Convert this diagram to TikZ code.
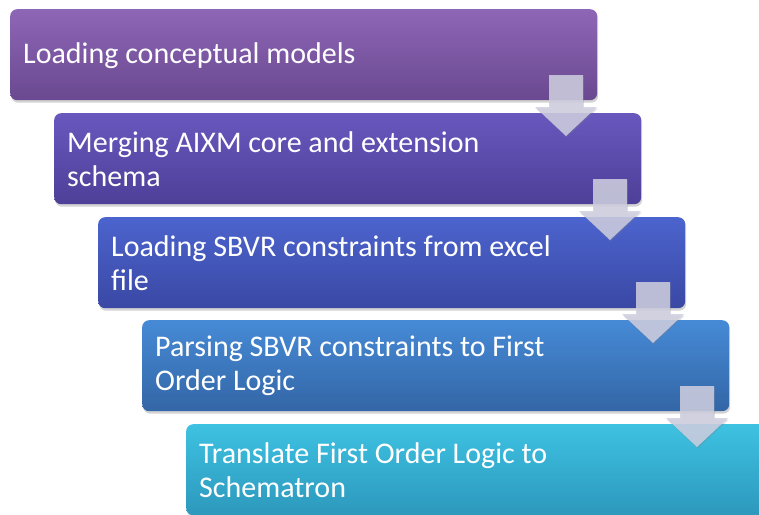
\documentclass[tikz,border=0pt]{standalone}
\usepackage{fontspec}
\setmainfont{Carlito}
\usetikzlibrary{shadows}
\begin{document}
\begin{tikzpicture}[x=1pt,y=-1pt,
  stepbox/.style={rectangle, anchor=north west, rounded corners=7pt,
    minimum width=587pt, minimum height=91pt,
    drop shadow={shadow xshift=1pt, shadow yshift=-2.5pt, opacity=0.35}},
  steptext/.style={anchor=west, inner sep=0pt, text=white, align=flush left,
    font=\fontsize{30}{34}\selectfont},
  flowarrow/.style={fill=arrowfill, fill opacity=0.85, draw=none,
    drop shadow={shadow xshift=0.8pt, shadow yshift=-1.5pt, opacity=0.25}}]
\definecolor{arrowfill}{HTML}{CFCFE1}

\useasboundingbox (0,0) rectangle (759,514);

% process steps: shaded boxes
\node[stepbox, top color={rgb,255:red,142;green,102;blue,182}, bottom color={rgb,255:red,106;green,73;blue,144}]
  (s1) at (10,9) {};
\node[stepbox, top color={rgb,255:red,104;green,88;blue,190}, bottom color={rgb,255:red,78;green,63;blue,152}]
  (s2) at (54,113) {};
\node[stepbox, top color={rgb,255:red,76;green,100;blue,206}, bottom color={rgb,255:red,58;green,72;blue,164}]
  (s3) at (98,217) {};
\node[stepbox, top color={rgb,255:red,70;green,138;blue,214}, bottom color={rgb,255:red,51;green,102;blue,166}]
  (s4) at (142,320) {};
\node[stepbox, top color={rgb,255:red,62;green,194;blue,226}, bottom color={rgb,255:red,44;green,152;blue,188}]
  (s5) at (186,424) {};

% step captions (yshift is in page units: negative moves down)
\node[steptext] (t1) at ([xshift=13pt,yshift=-1pt]s1.west) {Loading conceptual models};
\node[steptext] (t2) at ([xshift=13pt]s2.west) {Merging AIXM core and extension\\schema};
\node[steptext] (t3) at ([xshift=13pt]s3.west) {Loading SBVR constraints from excel\\file};
\node[steptext] (t4) at ([xshift=13pt]s4.west) {Parsing SBVR constraints to First\\Order Logic};
\node[steptext] (t5) at ([xshift=13pt]s5.west) {Translate First Order Logic to\\Schematron};

% down arrows between consecutive steps
\foreach \tx/\ty [count=\i] in {566/136, 610/240, 653/343, 697/447}{
  \coordinate (tip\i) at (\tx,\ty);
  \path[flowarrow] (tip\i)
    -- ++(-31,-29) -- ++(14,0) -- ++(0,-32) -- ++(34,0) -- ++(0,32)
    -- ++(14,0) -- cycle;
}
\end{tikzpicture}
\end{document}
